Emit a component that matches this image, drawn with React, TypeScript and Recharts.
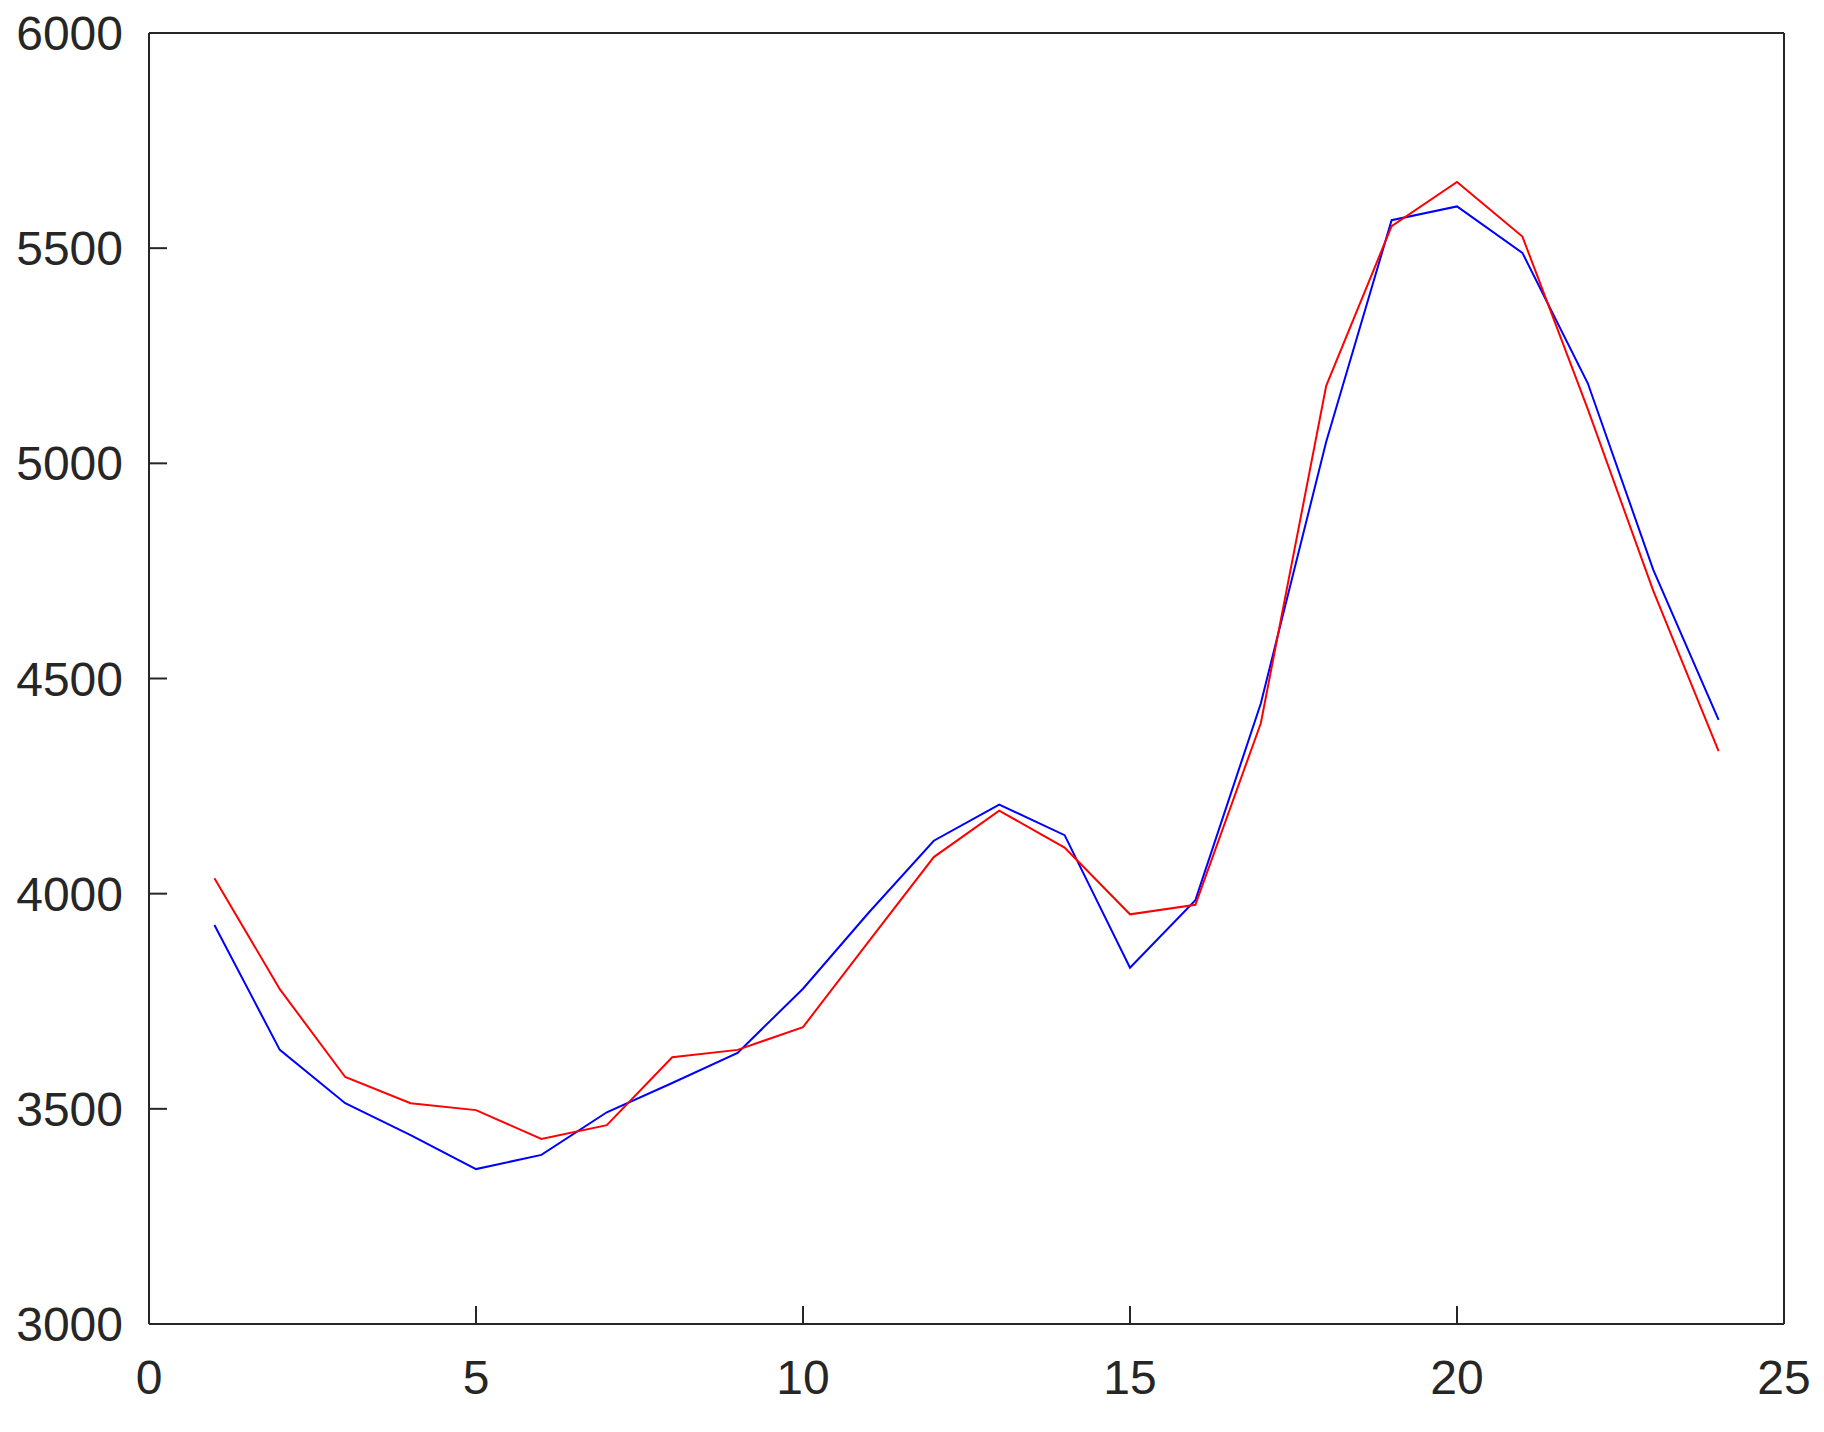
import { LineChart, Line, XAxis, YAxis } from 'recharts';

const hours = [1, 2, 3, 4, 5, 6, 7, 8, 9, 10, 11, 12, 13, 14, 15, 16, 17, 18, 19, 20, 21, 22, 23, 24];
const blueValues = [3927, 3637, 3513, 3439, 3360, 3393, 3492, 3560, 3630, 3779, 3955, 4123, 4207, 4136, 3828, 3985, 4442, 5050, 5565, 5597, 5489, 5186, 4753, 4404];
const redValues = [4036, 3778, 3574, 3513, 3497, 3430, 3462, 3620, 3637, 3690, 3888, 4085, 4193, 4107, 3952, 3974, 4396, 5180, 5551, 5654, 5527, 5126, 4704, 4331];
const xTicks = [0, 5, 10, 15, 20, 25];
const yTicks = [3000, 3500, 4000, 4500, 5000, 5500, 6000];

const data = hours.map((h, i) => ({ h, blue: blueValues[i], red: redValues[i] }));

const INK = '#262626';
const FONT = '"Liberation Sans", Arial, Helvetica, sans-serif';
// negative tick size = ticks pointing into the plot (matlab style)
const TICK = -18;

const axisLine = { stroke: INK, strokeWidth: 2 };
const tickLine = { stroke: INK, strokeWidth: 2 };
const label = { fill: INK, fontSize: 48, fontFamily: FONT };

export default function App() {
  return (
    <div style={{ background: '#fff' }}>
      <style>{`body{margin:0;overflow:hidden;background:#fff}`}</style>
      <LineChart width={1824} height={1432} data={data} margin={{ top: 32, right: 39, left: 0, bottom: 0 }}>
        <XAxis
          dataKey="h"
          type="number"
          domain={[0, 25]}
          ticks={xTicks}
          height={108}
          tickSize={TICK}
          tickMargin={54}
          tickLine={tickLine}
          tick={label}
          axisLine={axisLine}
          interval={0}
        />
        <XAxis
          xAxisId="top"
          orientation="top"
          dataKey="h"
          type="number"
          domain={[0, 25]}
          ticks={xTicks}
          height={1}
          tickSize={TICK}
          tickLine={tickLine}
          tick={false}
          axisLine={axisLine}
          interval={0}
        />
        <YAxis
          type="number"
          domain={[3000, 6000]}
          ticks={yTicks}
          width={149}
          tickSize={TICK}
          tickMargin={44}
          tickLine={tickLine}
          tick={label}
          axisLine={axisLine}
          interval={0}
        />
        <YAxis
          yAxisId="right"
          orientation="right"
          type="number"
          domain={[3000, 6000]}
          ticks={yTicks}
          width={1}
          tickSize={TICK}
          tickLine={tickLine}
          tick={false}
          axisLine={axisLine}
          interval={0}
        />
        <Line type="linear" dataKey="blue" stroke="#0000ff" strokeWidth={2} dot={false} isAnimationActive={false} />
        <Line type="linear" dataKey="red" stroke="#ff0000" strokeWidth={2} dot={false} isAnimationActive={false} />
      </LineChart>
    </div>
  );
}
